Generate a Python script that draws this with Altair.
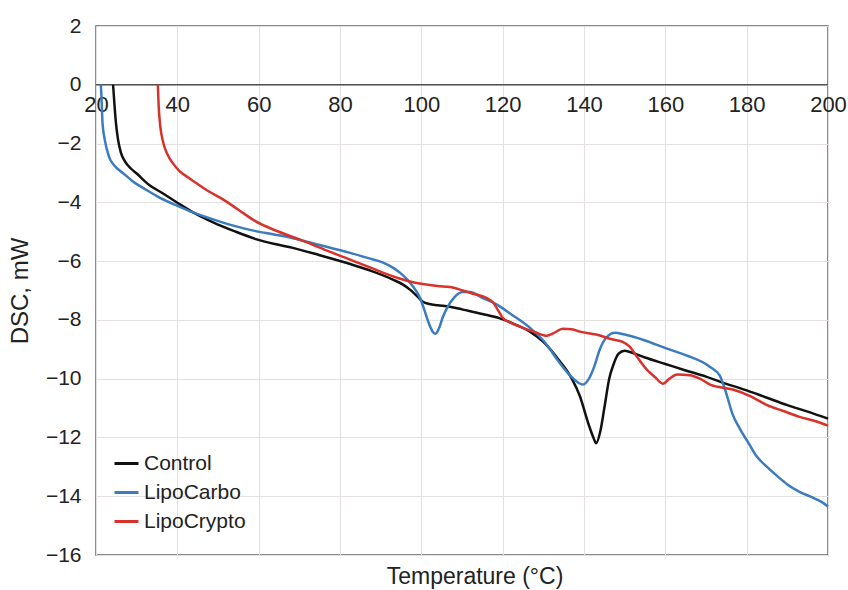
import altair as alt
import pandas as pd

FONT = "Liberation Sans"

series_names = ["Control", "LipoCarbo", "LipoCrypto"]
series_colors = ["#111111", "#3b7bbf", "#d8322b"]

ctrl_x = [24.2, 24.5, 24.9, 25.4, 26.1, 27.2, 28.5, 30, 33, 36.5, 40.4, 44, 48.8, 54, 59.3, 64,
          68.4, 75, 82.5, 88, 93, 95.5, 97.2, 99, 100.4, 102, 104, 107, 110.2, 115, 119.3, 123,
          126.7, 130, 134, 137, 139, 141, 142.3, 143, 144, 145, 146.2, 147.3, 148.5, 150, 151.5,
          155, 160, 165, 170, 173.4, 180, 185, 190, 195, 200]
ctrl_y = [0, -0.6, -1.3, -1.85, -2.3, -2.62, -2.84, -3.02, -3.4, -3.7, -4.05, -4.35, -4.68, -4.98,
          -5.25, -5.42, -5.55, -5.8, -6.1, -6.35, -6.63, -6.8, -6.97, -7.2, -7.38, -7.46, -7.5,
          -7.55, -7.65, -7.8, -7.95, -8.15, -8.4, -8.75, -9.4, -10.0, -10.6, -11.5, -12.0, -12.2,
          -11.8, -11.0, -10.0, -9.5, -9.15, -9.05, -9.1, -9.28, -9.5, -9.72, -9.93, -10.1, -10.4,
          -10.65, -10.9, -11.12, -11.36]

carbo_x = [21.2, 21.4, 21.6, 22.2, 23.2, 24.5, 26.6, 29, 32.3, 35.5, 38.9, 43, 48.8, 54, 59.3, 64,
           68.4, 75, 82.5, 87, 90.6, 93, 94.8, 96.5, 98, 99.5, 100.6, 101.8, 102.8, 103.5, 104.3,
           105.3, 106.5, 108, 110.2, 112, 115, 118.6, 122, 126.7, 130, 134, 137, 139.7, 141,
           142.5, 143.9, 145.5, 147.6, 150, 155, 160.4, 165, 171, 173.4, 175.2, 176.5, 178.3,
           180.5, 182.5, 185, 187.4, 190, 193, 196.3, 198.5, 200]
carbo_y = [0, -0.6, -1.3, -1.9, -2.45, -2.75, -3.0, -3.28, -3.57, -3.83, -4.05, -4.3, -4.58, -4.8,
           -4.98, -5.1, -5.22, -5.45, -5.72, -5.9, -6.05, -6.22, -6.4, -6.62, -6.87, -7.2, -7.6,
           -8.1, -8.4, -8.47, -8.3, -7.9, -7.55, -7.25, -7.05, -7.05, -7.25, -7.48, -7.8, -8.27,
           -8.7, -9.46, -9.95, -10.2, -10.05, -9.6, -9.0, -8.6, -8.44, -8.5, -8.7, -8.98, -9.2,
           -9.6, -9.9, -10.6, -11.2, -11.7, -12.2, -12.65, -13.0, -13.3, -13.6, -13.85, -14.05,
           -14.2, -14.35]

crypto_x = [35.2, 35.4, 35.8, 36.5, 37.5, 38.8, 40.4, 42.5, 44.6, 48, 51.2, 55, 59.3, 64, 70.2,
            76, 82.5, 88, 91, 94.8, 98, 101.4, 104, 107, 110.2, 113, 116, 117.6, 119, 120, 122,
            125, 128, 130.9, 132.5, 134.8, 137, 139, 143, 147.1, 149.5, 151.3, 153, 155.5, 157.5,
            159.4, 161, 162.9, 166, 168.5, 171, 176.6, 181, 185, 189, 193, 197, 200]
crypto_y = [0, -0.7, -1.4, -1.95, -2.35, -2.65, -2.92, -3.14, -3.34, -3.65, -3.9, -4.25, -4.65,
            -4.95, -5.27, -5.6, -5.95, -6.25, -6.42, -6.6, -6.72, -6.8, -6.85, -6.88, -7.0, -7.12,
            -7.25, -7.4, -7.7, -7.93, -8.1, -8.27, -8.42, -8.54, -8.45, -8.3, -8.32, -8.4, -8.5,
            -8.67, -8.75, -8.92, -9.25, -9.7, -9.95, -10.17, -10.0, -9.86, -9.88, -10.0, -10.2,
            -10.37, -10.6, -10.9, -11.1, -11.3, -11.45, -11.6]

x_ticks = [20, 40, 60, 80, 100, 120, 140, 160, 180, 200]
y_ticks = [-16, -14, -12, -10, -8, -6, -4, -2, 0, 2]

rows = []
for name, xs, ys in [("Control", ctrl_x, ctrl_y),
                     ("LipoCarbo", carbo_x, carbo_y),
                     ("LipoCrypto", crypto_x, crypto_y)]:
    for i, (a, b) in enumerate(zip(xs, ys)):
        rows.append({"series": name, "T": a, "DSC": b, "idx": i})
df = pd.DataFrame(rows)

xscale = alt.Scale(domain=[20, 200], nice=False, zero=False)
yscale = alt.Scale(domain=[-16, 2], nice=False, zero=False)

lines = alt.Chart(df).mark_line(strokeWidth=2.5, interpolate="monotone").encode(
    x=alt.X("T:Q", scale=xscale,
            axis=alt.Axis(values=x_ticks, grid=True, gridColor="#e4e0e0", gridWidth=1,
                          domain=False, ticks=False, labelFontSize=22, labelPadding=9,
                          labelColor="#222222", labelFont=FONT, offset=-470, title=None,
                          labelFlush=False)),
    y=alt.Y("DSC:Q", scale=yscale,
            axis=alt.Axis(values=y_ticks, grid=True, gridColor="#e4e0e0", gridWidth=1,
                          domain=False, ticks=False, labelFontSize=21, labelPadding=15,
                          labelColor="#222222", labelFont=FONT, title="DSC, mW",
                          titleFontSize=24, titleFontWeight="normal", titleFont=FONT,
                          titleColor="#222222", titlePadding=13)),
    color=alt.Color("series:N",
                    scale=alt.Scale(domain=series_names, range=series_colors),
                    legend=alt.Legend(title=None, orient="none", legendX=17, legendY=424,
                                      symbolType="stroke", symbolSize=576,
                                      symbolStrokeWidth=3, labelFontSize=21, labelFont=FONT,
                                      labelColor="#222222", labelOffset=4, rowPadding=5,
                                      labelLimit=300)),
    order="idx:Q",
)

zero_df = pd.DataFrame({"y": [0]})
zero = alt.Chart(zero_df).mark_rule(color="#555555", strokeWidth=1.5).encode(
    y=alt.Y("y:Q", scale=yscale))

chart = alt.layer(zero, lines).properties(
    width=732, height=529,
    autosize=alt.AutoSizeParams(type="none"),
    padding={"left": 96, "top": 26, "right": 20, "bottom": 35},
    title=alt.TitleParams("Temperature (°C)", orient="bottom", fontSize=23,
                          fontWeight="normal", font=FONT, color="#222222", offset=1, dx=13),
    background="white",
).configure_view(stroke="#666666", strokeWidth=1.5)

chart.save("out.html", embed_options={"renderer": "svg", "actions": False})
